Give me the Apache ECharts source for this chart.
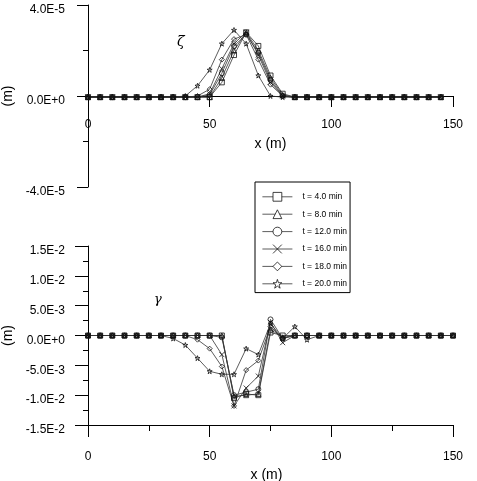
<!DOCTYPE html>
<html>
<head>
<meta charset="utf-8">
<script src="https://cdn.jsdelivr.net/npm/echarts@6/dist/echarts.min.js"></script>
<style>
html, body { margin: 0; padding: 0; background: #fff; }
#chart { width: 477px; height: 481px; }
</style>
</head>
<body>
<div id="chart"></div>
<script>
// x positions (m)
const xs = [0, 5, 10, 15, 20, 25, 30, 35, 40, 45, 50, 55, 60, 65, 70, 75,
    80, 85, 90, 95, 100, 105, 110, 115, 120, 125, 130, 135, 140, 145, 150];
const names = ['t = 4.0 min', 't = 8.0 min', 't = 12.0 min', 't = 16.0 min', 't = 18.0 min', 't = 20.0 min'];

// zeta (m), upper panel
const zeta4 = [-5e-7, -5e-7, -5e-7, -5e-7, -5e-7, -5e-7, -5e-7, -5e-7, -5e-7, -5e-7, -5e-7,
    6e-6, 1.8e-5, 2.8e-5, 2.2e-5, 9e-6, 1e-6,
    -5e-7, -5e-7, -5e-7, -5e-7, -5e-7, -5e-7, -5e-7, -5e-7, -5e-7, -5e-7, -5e-7, -5e-7, -5e-7];
const zeta8 = [-5e-7, -5e-7, -5e-7, -5e-7, -5e-7, -5e-7, -5e-7, -5e-7, -5e-7, -5e-7, -5e-7,
    8e-6, 2.0e-5, 2.8e-5, 2.0e-5, 8e-6, 5e-7,
    -5e-7, -5e-7, -5e-7, -5e-7, -5e-7, -5e-7, -5e-7, -5e-7, -5e-7, -5e-7, -5e-7, -5e-7, -5e-7];
const zeta12 = [-5e-7, -5e-7, -5e-7, -5e-7, -5e-7, -5e-7, -5e-7, -5e-7, -5e-7, -5e-7, 5e-7,
    1.0e-5, 2.2e-5, 2.7e-5, 1.9e-5, 7e-6, 0,
    -5e-7, -5e-7, -5e-7, -5e-7, -5e-7, -5e-7, -5e-7, -5e-7, -5e-7, -5e-7, -5e-7, -5e-7, -5e-7];
const zeta16 = [-5e-7, -5e-7, -5e-7, -5e-7, -5e-7, -5e-7, -5e-7, -5e-7, -5e-7, -5e-7, 1e-6,
    1.2e-5, 2.3e-5, 2.8e-5, 1.8e-5, 6e-6, 0,
    -5e-7, -5e-7, -5e-7, -5e-7, -5e-7, -5e-7, -5e-7, -5e-7, -5e-7, -5e-7, -5e-7, -5e-7, -5e-7];
const zeta18 = [-5e-7, -5e-7, -5e-7, -5e-7, -5e-7, -5e-7, -5e-7, -5e-7, -5e-7, 0, 3e-6,
    1.6e-5, 2.5e-5, 2.7e-5, 1.6e-5, 5e-6, 0,
    -5e-7, -5e-7, -5e-7, -5e-7, -5e-7, -5e-7, -5e-7, -5e-7, -5e-7, -5e-7, -5e-7, -5e-7, -5e-7];
const zeta20 = [-5e-7, -5e-7, -5e-7, -5e-7, -5e-7, -5e-7, -5e-7, -5e-7, 0, 4.5e-6, 1.15e-5,
    2.3e-5, 2.9e-5, 2.3e-5, 9e-6, 0, -5e-7,
    -5e-7, -5e-7, -5e-7, -5e-7, -5e-7, -5e-7, -5e-7, -5e-7, -5e-7, -5e-7, -5e-7, -5e-7, -5e-7];

// gamma (m), lower panel
const gam4 = [0, 0, 0, 0, 0, 0, 0, 0, 0, 0, 0, 0,
    -10.5e-3, -9.8e-3, -10.0e-3, 0.5e-3, 0,
    0, 0, 0, 0, 0, 0, 0, 0, 0, 0, 0, 0, 0, 0];
const gam8 = [0, 0, 0, 0, 0, 0, 0, 0, 0, 0, 0, 0,
    -10.2e-3, -10.0e-3, -9.8e-3, 1.0e-3, -0.3e-3,
    0, 0, 0, 0, 0, 0, 0, 0, 0, 0, 0, 0, 0, 0];
const gam12 = [0, 0, 0, 0, 0, 0, 0, 0, 0, 0, 0, -0.3e-3,
    -10.0e-3, -9.5e-3, -9.0e-3, 2.7e-3, -0.5e-3,
    0, 0, 0, 0, 0, 0, 0, 0, 0, 0, 0, 0, 0, 0];
const gam16 = [0, 0, 0, 0, 0, 0, 0, 0, 0, 0, 0, -3.2e-3,
    -11.8e-3, -8.8e-3, -6.8e-3, 2.2e-3, -1.2e-3,
    0, 0, 0, 0, 0, 0, 0, 0, 0, 0, 0, 0, 0, 0];
const gam18 = [0, 0, 0, 0, 0, 0, 0, 0, 0, -0.7e-3, -2.2e-3, -5.2e-3,
    -11.8e-3, -5.8e-3, -4.2e-3, 1.5e-3, -0.5e-3,
    0, 0, 0, 0, 0, 0, 0, 0, 0, 0, 0, 0, 0, 0];
const gam20 = [0, 0, 0, 0, 0, 0, 0, -0.5e-3, -1.6e-3, -3.8e-3, -6.0e-3, -6.5e-3,
    -6.5e-3, -2.2e-3, -3.2e-3, 2.0e-3, -0.5e-3,
    1.5e-3, -0.7e-3, 0, 0, 0, 0, 0, 0, 0, 0, 0, 0, 0, 0];

const zetaAll = [zeta4, zeta8, zeta12, zeta16, zeta18, zeta20];
const gamAll = [gam4, gam8, gam12, gam16, gam18, gam20];

const symbols = [
    'rect', 'triangle', 'circle',
    'path://M0,0L10,10M10,0L0,10',
    'diamond',
    'path://M5,0L6.2,3.6L10,3.6L6.9,5.9L8.1,9.5L5,7.3L1.9,9.5L3.1,5.9L0,3.6L3.8,3.6Z'
];

const fmt = function (v) {
    if (Math.abs(v) < 1e-9) return '0.0E+0';
    return v.toExponential(1).toUpperCase();
};

const labelFont = { color: '#000', fontFamily: 'Liberation Sans, Arial, sans-serif', fontSize: 12 };
const nameFont = { color: '#000', fontFamily: 'Liberation Sans, Arial, sans-serif', fontSize: 14 };

function makeSeries(name, i, vals, axis) {
    return {
        type: 'line',
        name: name,
        xAxisIndex: axis,
        yAxisIndex: axis,
        data: xs.map((x, k) => [x, vals[k]]),
        symbol: symbols[i],
        symbolSize: 5,
        lineStyle: { color: '#333', width: 0.8 },
        itemStyle: { color: 'rgba(255,255,255,0)', borderColor: '#111', borderWidth: 0.8 },
        emphasis: { disabled: true },
        animation: false
    };
}

const seriesArr = [];
names.forEach((n, i) => seriesArr.push(makeSeries(n, i, zetaAll[i], 0)));
names.forEach((n, i) => seriesArr.push(makeSeries(n, i, gamAll[i], 1)));

const axisLine = { onZero: false, lineStyle: { color: '#000', width: 1 } };
// y labels sit a few px below their ticks, as in the original
const yLabel = Object.assign({ margin: 23, formatter: fmt, verticalAlign: 'top', lineHeight: 10 }, labelFont);

const option = {
    backgroundColor: '#fff',
    animation: false,
    grid: [
        { left: 88, top: 5, width: 365, height: 182, outerBoundsMode: 'none' },
        { left: 88, top: 246, width: 365, height: 179, outerBoundsMode: 'none' }
    ],
    xAxis: [
        {
            // sits on the zero line of the upper panel
            type: 'value', gridIndex: 0, min: 0, max: 150, interval: 50,
            position: 'bottom', offset: -91,
            axisLine: axisLine,
            axisTick: { length: 11, lineStyle: { color: '#000' } },
            axisLabel: Object.assign({ margin: 23 }, labelFont),
            splitLine: { show: false },
            name: 'x (m)', nameLocation: 'middle', nameGap: 41, nameTextStyle: nameFont
        },
        {
            type: 'value', gridIndex: 1, min: 0, max: 150, interval: 50,
            axisLine: axisLine,
            axisTick: { length: 12, lineStyle: { color: '#000' } },
            minorTick: { show: true, splitNumber: 2, length: 6, lineStyle: { color: '#000' } },
            axisLabel: Object.assign({ margin: 26 }, labelFont),
            splitLine: { show: false },
            name: 'x (m)', nameLocation: 'middle', nameGap: 43,
            nameTextStyle: Object.assign({ padding: [0, 8, 0, 0] }, nameFont)
        }
    ],
    yAxis: [
        {
            type: 'value', gridIndex: 0, min: -4e-5, max: 4e-5, interval: 4e-5,
            axisLine: axisLine,
            axisTick: { length: 11, lineStyle: { color: '#000' } },
            minorTick: { show: true, splitNumber: 2, length: 5, lineStyle: { color: '#000' } },
            axisLabel: yLabel,
            splitLine: { show: false },
            name: '(m)', nameLocation: 'middle', nameGap: 68, nameTextStyle: nameFont
        },
        {
            type: 'value', gridIndex: 1, min: -0.015, max: 0.015, interval: 0.005,
            axisLine: axisLine,
            axisTick: { length: 13, lineStyle: { color: '#000' } },
            minorTick: { show: true, splitNumber: 2, length: 5, lineStyle: { color: '#000' } },
            axisLabel: yLabel,
            splitLine: { show: false },
            name: '(m)', nameLocation: 'middle', nameGap: 68, nameTextStyle: nameFont
        }
    ],
    legend: {
        data: names,
        orient: 'vertical',
        left: 255,
        top: 182,
        padding: [10, 3, 4, 7],
        itemGap: 7.8,
        itemWidth: 30,
        itemHeight: 11,
        borderColor: '#000',
        borderWidth: 1,
        selectedMode: false,
        itemStyle: { color: '#fff', borderColor: '#111', borderWidth: 0.8 },
        lineStyle: { color: '#333', width: 0.8 },
        textStyle: {
            color: '#000',
            fontFamily: 'Liberation Sans, Arial, sans-serif',
            fontSize: 8.5,
            padding: [0, 0, 0, 5]
        }
    },
    graphic: [
        { type: 'text', left: 177, top: 35, style: { text: 'ζ', font: 'italic 14px "DejaVu Serif", serif', fill: '#000' } },
        { type: 'text', left: 154, top: 293, style: { text: 'γ', font: 'italic 13px "DejaVu Serif", serif', fill: '#000' } }
    ],
    series: seriesArr
};

const myChart = echarts.init(document.getElementById('chart'));
myChart.setOption(option);
</script>
</body>
</html>
